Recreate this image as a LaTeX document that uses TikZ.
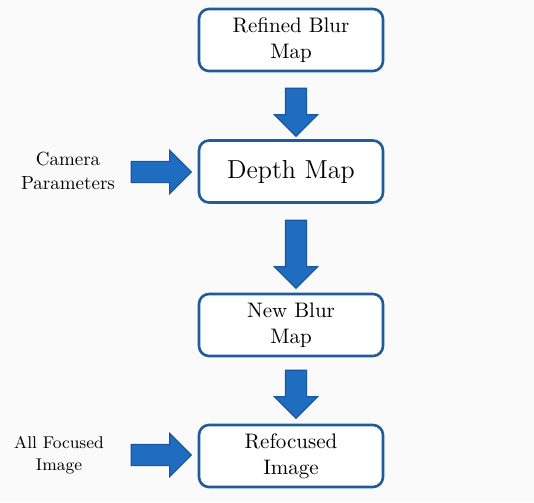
\documentclass[tikz,border=0pt]{standalone}
\usetikzlibrary{shapes.arrows}
\definecolor{boxblue}{HTML}{1F5C99}
\definecolor{arrowblue}{HTML}{1E6DC1}
\definecolor{arrowedge}{HTML}{1A55A0}
\begin{document}
\begin{tikzpicture}[x=0.5pt,y=-0.5pt,
    blockbox/.style={draw=boxblue,line width=1.3pt,rounded corners=5pt,fill=white,
      minimum width=92pt,minimum height=31pt,align=center,inner sep=2pt,
      font=\fontsize{10.5}{13}\selectfont},
    fatarrow/.style={single arrow,draw=arrowedge,fill=arrowblue,line width=0.6pt,
      minimum width=21pt,single arrow head extend=5.5pt,single arrow head indent=0pt,
      inner sep=5pt}]
    \useasboundingbox[fill=black!2] (0,0) rectangle (534,502);
    % boxes
    \node[blockbox] (refined) at (291,40) {Refined Blur\\Map};
    \node[blockbox,font=\fontsize{13}{15}\selectfont] (depth) at (291,171.5) {Depth Map};
    \node[blockbox] (newblur) at (291,325) {New Blur\\Map};
    \node[blockbox] (refocused) at (291,456) {Refocused\\Image};
    % inputs
    \node[align=center,font=\fontsize{9.5}{12}\selectfont] (camera) at (68,171) {Camera\\Parameters};
    \node[align=center,font=\fontsize{8.5}{11}\selectfont] (allfocused) at (59,455) {All Focused\\Image};
    % block arrows
    \node[fatarrow,shape border rotate=270,minimum height=24pt] (down1) at (296,107) {};
    \node[fatarrow,shape border rotate=270,minimum height=34pt] (down2) at (296,249) {};
    \node[fatarrow,shape border rotate=270,minimum height=24pt] (down3) at (296,389) {};
    \node[fatarrow,minimum height=30pt] (right1) at (156,172) {};
    \node[fatarrow,minimum height=30pt] (right2) at (156,455) {};
\end{tikzpicture}
\end{document}
